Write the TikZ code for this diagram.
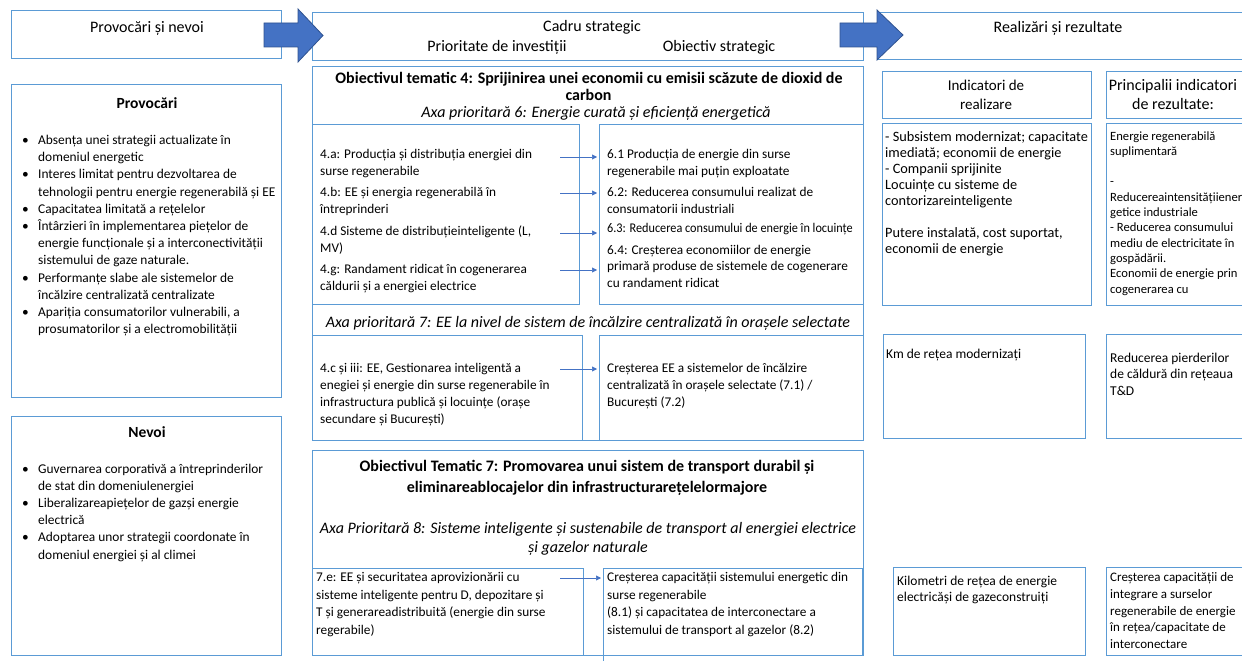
\documentclass[tikz,border=0pt]{standalone}
\usepackage{fontspec}
\setmainfont{Carlito}
\usetikzlibrary{arrows.meta}
\definecolor{bx}{HTML}{5B9BD5}
\definecolor{ar}{HTML}{4472C4}
\definecolor{ard}{HTML}{2F528F}
\newcommand{\ml}[1]{\begin{tabular}[t]{@{}l@{}}#1\end{tabular}}
\newcommand{\bl}{\makebox[16pt][l]{\textbullet}}
\newcommand{\ind}{\hspace*{16pt}}
\newcommand{\boxat}[5]{\node[box,anchor=north west,minimum width={(#4-#2)*1pt},minimum height={(#5-#3)*1pt}] (#1) at (#2,#3) {};}
\tikzset{
  box/.style={draw=bx, line width=0.8pt, inner sep=0pt, outer sep=0pt},
  body/.style={anchor=base west, inner sep=0pt, font=\fontsize{13.3}{17}\selectfont},
  hd/.style={anchor=base, inner sep=0pt, font=\fontsize{16}{19}\selectfont},
  bhd/.style={anchor=base, inner sep=0pt, font=\fontsize{16}{17}\selectfont\bfseries},
  ihd/.style={anchor=base, inner sep=0pt, font=\fontsize{16}{17}\selectfont\itshape},
  conn/.style={draw=ar, line width=0.6pt, -{Triangle[length=5pt,width=5pt]}},
  bigarrow/.style={fill=ar, draw=ard, line width=0.8pt}
}
\begin{document}
\begin{tikzpicture}[x=1pt,y=-1pt]
\useasboundingbox (0,0) rectangle (1242,661);
% top row
\boxat{pn}{11}{10}{281}{58}
\boxat{cadru}{312}{12}{863}{60}
\boxat{rez}{877}{12}{1252}{59}
\node[hd] (tpn) at (147,33) {Provocări și nevoi};
\node[hd] (tcs) at (592,32) {Cadru strategic};
\node[hd] (tpi) at (497,52) {Prioritate de investiții};
\node[hd] (tos) at (719,52) {Obiectiv strategic};
\node[hd] (trr) at (1058,33) {Realizări și rezultate};
\draw[bigarrow] (264,23) -- (298,23) -- (298,9) -- (323,35.5) -- (298,62) -- (298,47) -- (264,47) -- cycle;
\draw[bigarrow] (840,23) -- (877,23) -- (877,10) -- (903,35) -- (877,60) -- (877,47) -- (840,47) -- cycle;
% left column
\boxat{prov}{11}{84}{281}{397}
\boxat{nev}{11}{416}{281}{655}
\node[anchor=base, inner sep=0pt, font=\fontsize{15.5}{18}\selectfont\bfseries] (tprov) at (147,108) {Provocări};
\node[body, font=\fontsize{13.4}{17.2}\selectfont] (lprov) at (22,144.5) {\ml{\bl Absența unei strategii actualizate în\\ \ind domeniul energetic\\ \bl Interes limitat pentru dezvoltarea de\\ \ind tehnologii pentru energie regenerabilă și EE\\ \bl Capacitatea limitată a rețelelor\\ \bl Întârzieri în implementarea piețelor de\\ \ind energie funcționale și a interconectivității\\ \ind sistemului de gaze naturale.\\ \bl Performanțe slabe ale sistemelor de\\ \ind încălzire centralizată centralizate\\ \bl Apariția consumatorilor vulnerabili, a\\ \ind prosumatorilor și a electromobilității}};
\node[anchor=base, inner sep=0pt, font=\fontsize{15.5}{18}\selectfont\bfseries] (tnev) at (147,437.5) {Nevoi};
\node[body, font=\fontsize{13.4}{17.2}\selectfont] (lnev) at (22,473) {\ml{\bl Guvernarea corporativă a întreprinderilor\\ \ind de stat din domeniulenergiei\\ \bl Liberalizareapiețelor de gazși energie\\ \ind electrică\\ \bl Adoptarea unor strategii coordonate în\\ \ind domeniul energiei și al climei}};
% middle: thematic objective 4
\boxat{c1}{312}{66}{863}{440}
\boxat{s1l}{312}{124}{579}{304}
\boxat{s1r}{599}{124}{863}{304}
\boxat{s2l}{312}{335}{582}{440}
\boxat{s2r}{599}{335}{863}{440}
\node[bhd] (t4a) at (589,83) {Obiectivul tematic 4: Sprijinirea unei economii cu emisii scăzute de dioxid de};
\node[bhd] (t4b) at (588.5,100) {carbon};
\node[ihd] (ax6) at (596,117) {Axa prioritară 6: Energie curată și eficiență energetică};
\node[body] (p4a) at (320,158) {\ml{4.a: Producția și distribuția energiei din\\surse regenerabile}};
\node[body] (p4b) at (320,196) {\ml{4.b: EE și energia regenerabilă în\\întreprinderi}};
\node[body] (p4d) at (320,235) {\ml{4.d Sisteme de distribuțieinteligente (L,\\MV)}};
\node[body] (p4g) at (320,273) {\ml{4.g: Randament ridicat în cogenerarea\\căldurii și a energiei electrice}};
\node[body] (o61) at (607,158) {\ml{6.1 Producția de energie din surse\\regenerabile mai puțin exploatate}};
\node[body] (o62) at (607,196) {\ml{6.2: Reducerea consumului realizat de\\consumatorii industriali}};
\node[body] (o63) at (607,232) {\scalebox{0.92}[1]{6.3: Reducerea consumului de energie în locuințe}};
\node[body, font=\fontsize{13.3}{16.5}\selectfont] (o64) at (607,254) {\ml{6.4: Creșterea economiilor de energie\\primară produse de sistemele de cogenerare\\cu randament ridicat}};
\coordinate (a1) at (560,157);
\coordinate (a2) at (560,193);
\coordinate (a3) at (560,233);
\coordinate (a4) at (560,270);
\foreach \c in {a1,a2,a3,a4} \draw[conn, shorten >=2pt] (\c) -- (\c -| s1r.west);
\node[ihd] (ax7) at (588,327) {Axa prioritară 7: EE la nivel de sistem de încălzire centralizată în orașele selectate};
\node[body] (p4c) at (320,372.5) {\ml{4.c și iii: EE, Gestionarea inteligentă a\\enegiei și energie din surse regenerabile în\\infrastructura publică și locuințe (orașe\\secundare și București)}};
\node[body] (o7) at (607,372.5) {\ml{Creșterea EE a sistemelor de încălzire\\centralizată în orașele selectate (7.1) /\\București (7.2)}};
\coordinate (a5) at (560,369);
\draw[conn, shorten >=2pt] (a5) -- (a5 -| s2r.west);
% middle: thematic objective 7
\boxat{c2}{312}{450}{863}{655}
\boxat{s3l}{312}{568}{583}{655}
\boxat{s3r}{603}{568}{862}{655}
\coordinate (s3x) at (603,662);
\draw[draw=bx, line width=0.8pt] (s3r.south west) -- (s3x);
\node[bhd] (t7a) at (587,471.5) {Obiectivul Tematic 7: Promovarea unui sistem de transport durabil și};
\node[bhd] (t7b) at (587,492.5) {eliminareablocajelor din infrastructurarețelelormajore};
\node[ihd] (ax8a) at (588,533) {Axa Prioritară 8: Sisteme inteligente și sustenabile de transport al energiei electrice};
\node[ihd] (ax8b) at (588,552) {și gazelor naturale};
\node[body, font=\fontsize{13.3}{17.5}\selectfont] (p7e) at (316,581.5) {\ml{7.e: EE și securitatea aprovizionării cu\\sisteme inteligente pentru D, depozitare și\\T și generareadistribuită (energie din surse\\regerabile)}};
\node[body, font=\fontsize{13.3}{17.5}\selectfont] (o8) at (607,581.5) {\ml{Creșterea capacității sistemului energetic din\\surse regenerabile\\(8.1) și capacitatea de interconectare a\\sistemului de transport al gazelor (8.2)}};
\coordinate (a6) at (560,578);
\draw[conn, shorten >=2pt] (a6) -- (a6 -| s3r.west);
% right column
\boxat{h1}{882}{71}{1091}{118}
\boxat{h2}{1106}{71}{1252}{118}
\boxat{b1}{882}{123}{1091}{305}
\boxat{b2}{1106}{123}{1252}{305}
\boxat{km}{883}{334}{1085}{438}
\boxat{red}{1106}{334}{1252}{438}
\boxat{kil}{893}{567}{1085}{655}
\boxat{cre}{1106}{567}{1252}{655}
\node[anchor=base, inner sep=0pt, font=\fontsize{15}{19}\selectfont] (th1a) at (986,91) {Indicatori de};
\node[anchor=base, inner sep=0pt, font=\fontsize{15}{19}\selectfont] (th1b) at (986,110) {realizare};
\node[anchor=base, inner sep=0pt, font=\fontsize{16}{19}\selectfont] (th2a) at (1173,91) {Principalii indicatori};
\node[anchor=base, inner sep=0pt, font=\fontsize{16}{19}\selectfont] (th2b) at (1173,110) {de rezultate:};
\node[body, font=\fontsize{14.3}{16}\selectfont] (tb1) at (885,141) {\ml{- Subsistem modernizat; capacitate\\imediată; economii de energie\\- Companii sprijinite\\Locuințe cu sisteme de\\contorizareinteligente\\ \\Putere instalată, cost suportat,\\economii de energie}};
\node[body, font=\fontsize{12.6}{15.3}\selectfont] (tb2) at (1110,140) {\ml{Energie regenerabilă\\suplimentară\\ \\-\\Reducereaintensitățiiener\\getice industriale\\- Reducerea consumului\\mediu de electricitate în\\gospădării.\\Economii de energie prin\\cogenerarea cu}};
\node[body, font=\fontsize{13.5}{16.5}\selectfont] (tkm) at (886,358) {Km de rețea modernizați};
\node[body, font=\fontsize{13.5}{16.5}\selectfont] (tred) at (1110,362) {\ml{Reducerea pierderilor\\de căldură din rețeaua\\T\&D}};
\node[body, font=\fontsize{13.5}{16.5}\selectfont] (tkil) at (897,585) {\ml{Kilometri de rețea de energie\\electricăși de gazeconstruiți}};
\node[body, font=\fontsize{13}{16.8}\selectfont] (tcre) at (1110,581.5) {\ml{Creșterea capacității de\\integrare a surselor\\regenerabile de energie\\în rețea/capacitate de\\interconectare}};
\end{tikzpicture}
\end{document}
